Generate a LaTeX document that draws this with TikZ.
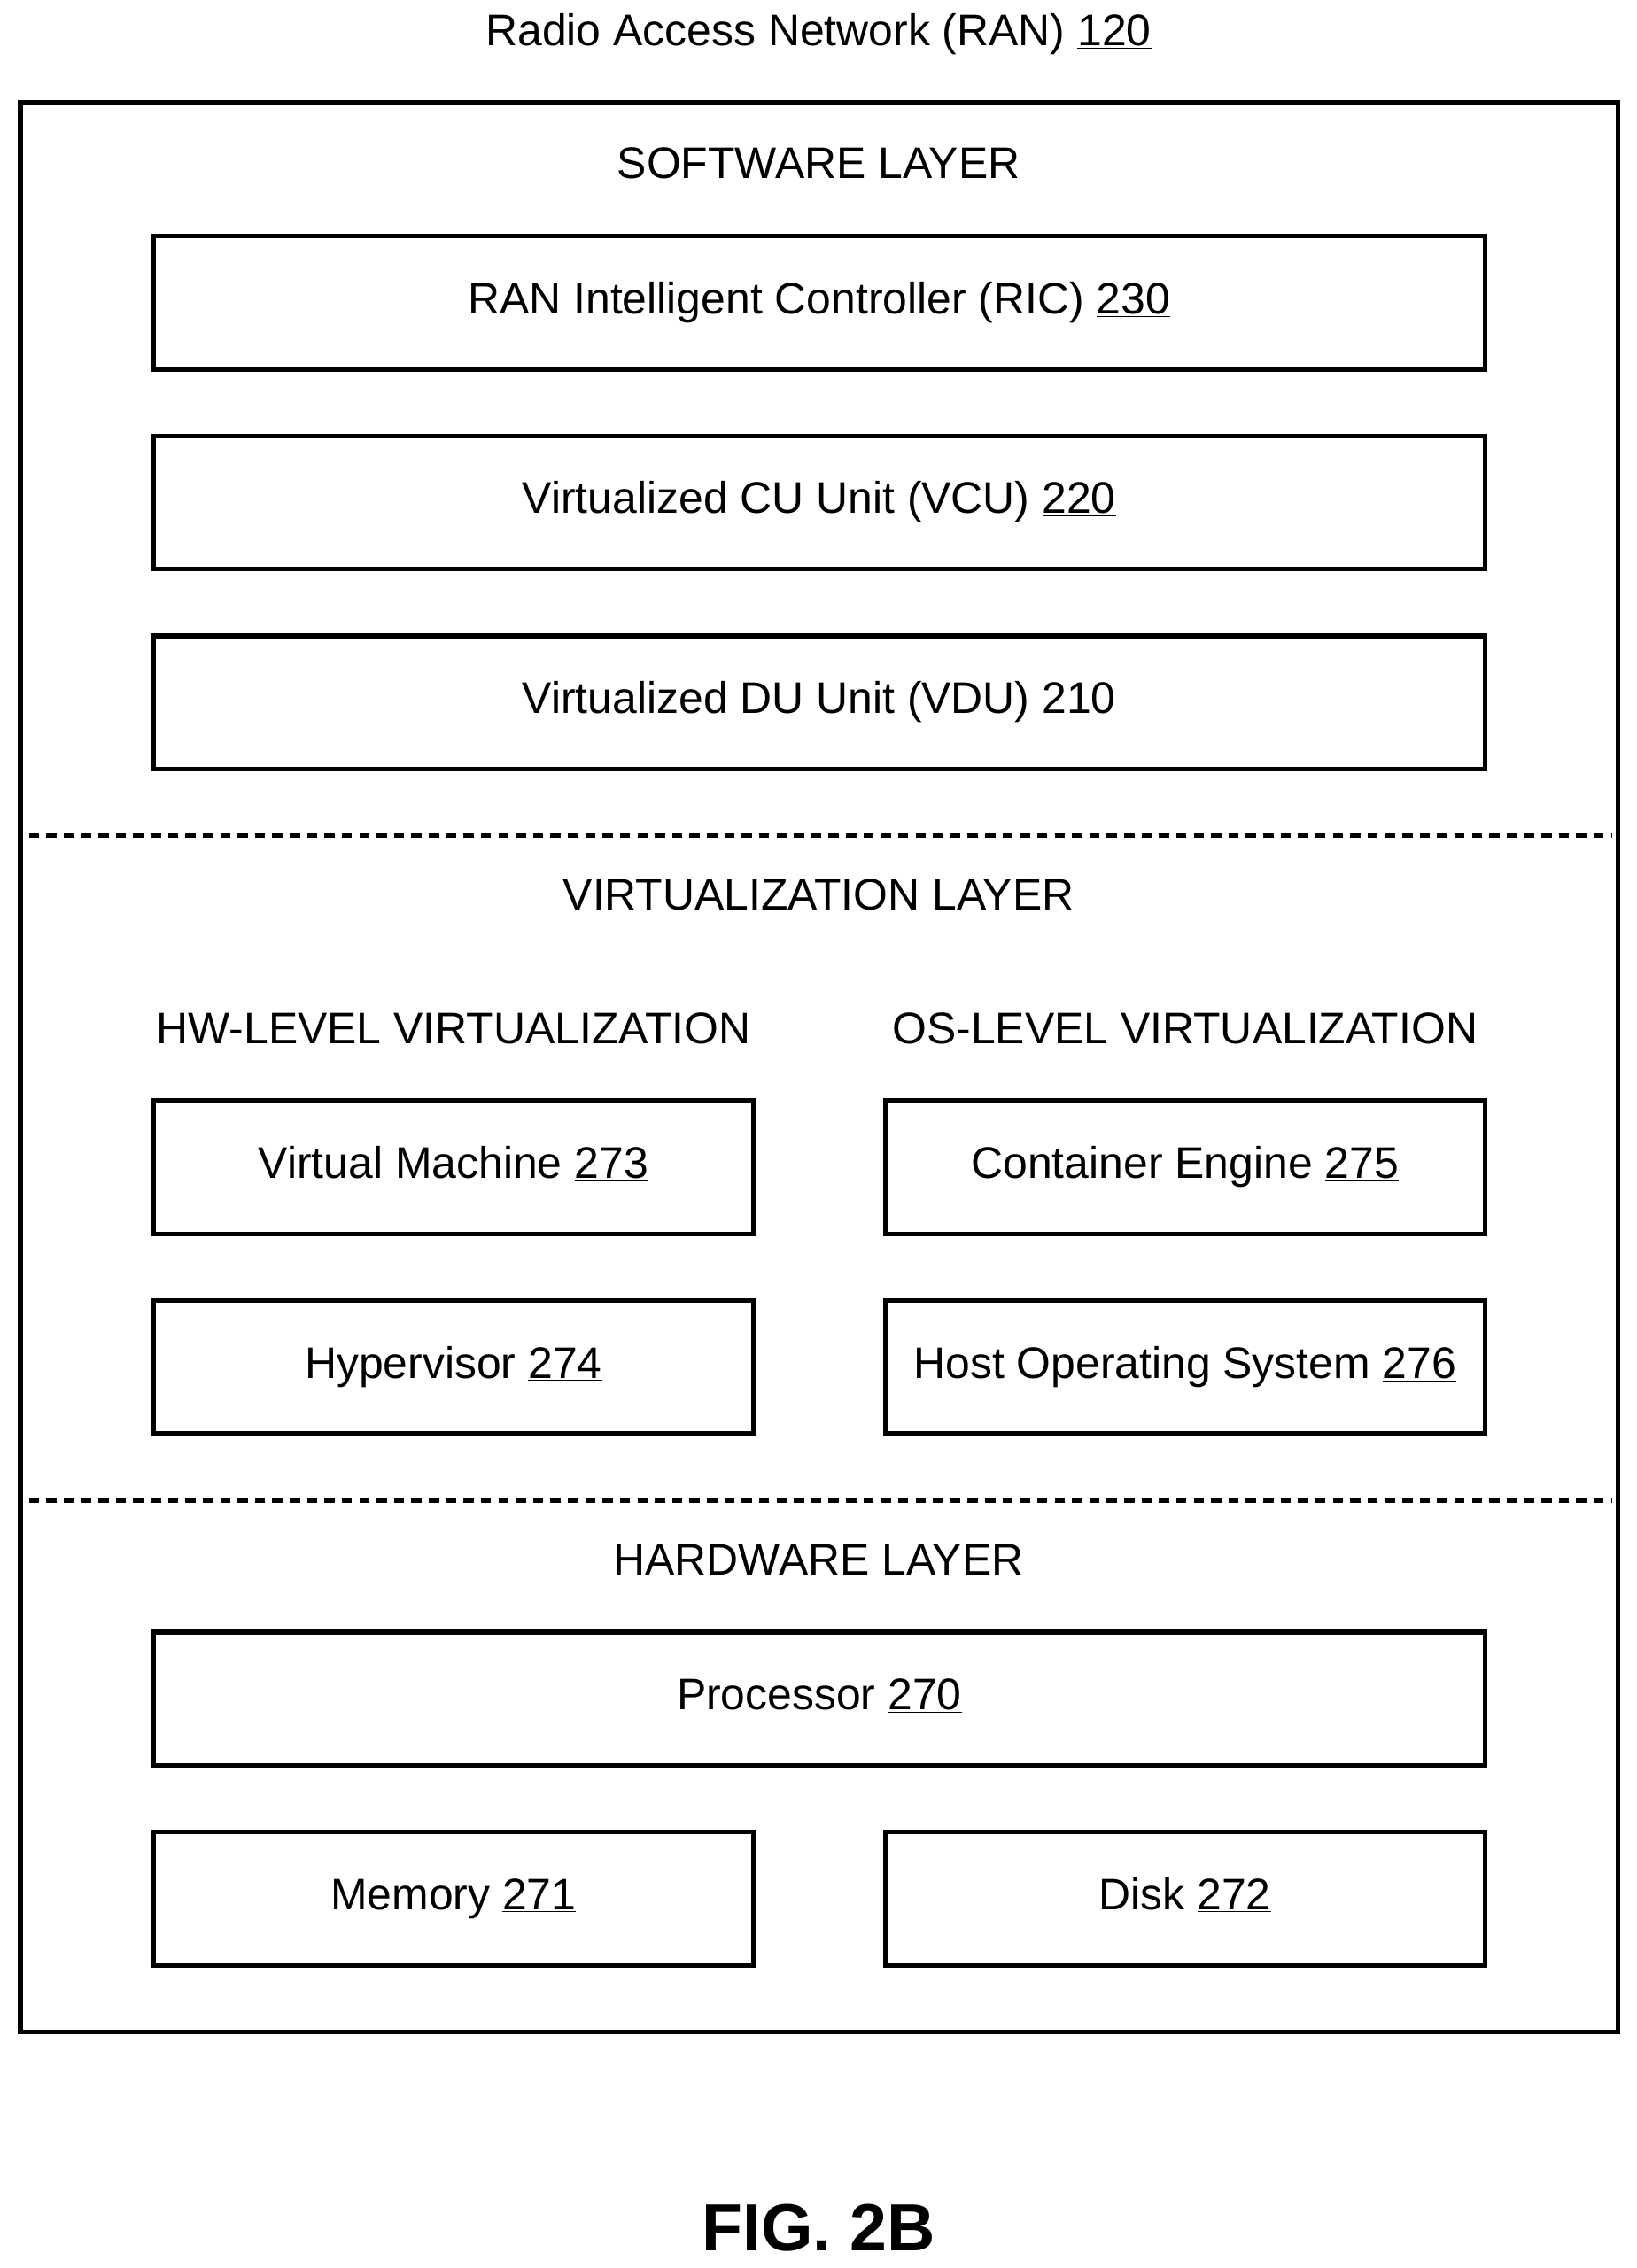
\documentclass[tikz,border=0pt]{standalone}
\usepackage{fontspec}
\setmainfont{Liberation Sans}
\begin{document}
\begin{tikzpicture}[x=1pt,y=-1pt,
  box/.style={draw,line width=3.2pt,minimum height=92pt,inner sep=0pt},
  wide/.style={box,minimum width=919pt},
  half/.style={box,minimum width=414pt},
  lbl/.style={font=\fontsize{30.5}{33}\selectfont,text height=22pt,text depth=7pt},
  layerline/.style={line width=3pt,dash pattern=on 7pt off 5pt}]
\useasboundingbox (0,0) rectangle (1130,1566);
\node[lbl] (title) at (565,24) {Radio Access Network (RAN) \underline{120}};
\node[draw,line width=3.2pt,minimum width=1103pt,minimum height=1332pt,inner sep=0pt] (ran) at (565.5,737) {};
\node[lbl] (sw) at (565,116) {SOFTWARE LAYER};
\node[wide,lbl] (ric) at (565.5,209) {RAN Intelligent Controller (RIC) \underline{230}};
\node[wide,lbl] (vcu) at (565.5,347) {Virtualized CU Unit (VCU) \underline{220}};
\node[wide,lbl] (vdu) at (565.5,485) {Virtualized DU Unit (VDU) \underline{210}};
\coordinate (d1a) at (20,577); \coordinate (d1b) at (1113,577);
\draw[layerline] (d1a) -- (d1b);
\node[lbl] (virt) at (565,621) {VIRTUALIZATION LAYER};
\node[lbl] (hw) at (313,713) {HW-LEVEL VIRTUALIZATION};
\node[lbl] (os) at (818,713) {OS-LEVEL VIRTUALIZATION};
\node[half,lbl] (vm) at (313,806) {Virtual Machine \underline{273}};
\node[half,lbl] (ce) at (818,806) {Container Engine \underline{275}};
\node[half,lbl] (hyp) at (313,944) {Hypervisor \underline{274}};
\node[half,lbl] (hos) at (818,944) {Host Operating System \underline{276}};
\coordinate (d2a) at (20,1036); \coordinate (d2b) at (1113,1036);
\draw[layerline] (d2a) -- (d2b);
\node[lbl] (hwl) at (565,1080) {HARDWARE LAYER};
\node[wide,lbl] (proc) at (565.5,1173) {Processor \underline{270}};
\node[half,lbl] (mem) at (313,1311) {Memory \underline{271}};
\node[half,lbl] (disk) at (818,1311) {Disk \underline{272}};
\node[font=\fontsize{46}{50}\selectfont\bfseries] (fig) at (565,1538) {FIG. 2B};
\end{tikzpicture}
\end{document}
